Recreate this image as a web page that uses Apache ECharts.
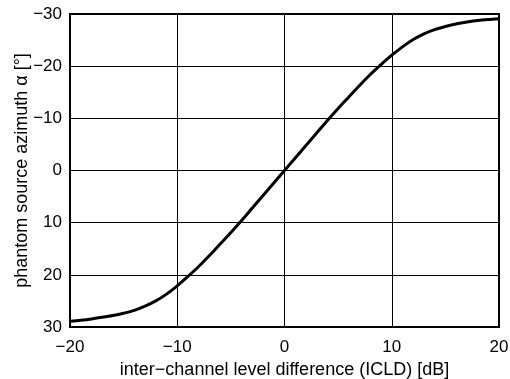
<!DOCTYPE html>
<html>
<head>
<meta charset="utf-8">
<script src="https://cdn.jsdelivr.net/npm/echarts@6/dist/echarts.min.js"></script>
<style>
html,body{margin:0;padding:0;background:#fff;}
#chart{width:510px;height:379px;}
</style>
</head>
<body>
<div id="chart"></div>
<script>
// ICLD values [dB]
var icld = [-20, -19, -18, -17, -16, -15, -14, -13, -12, -11, -10, -9, -8, -7, -6, -5, -4, -3, -2, -1, 0,
            1, 2, 3, 4, 5, 6, 7, 8, 9, 10, 11, 12, 13, 14, 15, 16, 17, 18, 19, 20];
// phantom source azimuth [deg]
var azimuth = [28.9, 28.7, 28.45, 28.15, 27.8, 27.35, 26.8, 26.0, 25.0, 23.7, 22.1, 20.3, 18.4, 16.3, 14.1, 11.9, 9.6, 7.2, 4.8, 2.4, 0,
               -2.4, -4.8, -7.2, -9.6, -11.9, -14.1, -16.3, -18.4, -20.3, -22.1, -23.7, -25.1, -26.2, -27.0, -27.6, -28.1, -28.45, -28.75, -28.95, -29.1];
var xTicks = [-20, -10, 0, 10, 20];
var yTicks = [-30, -20, -10, 0, 10, 20, 30];
var xLabel = 'inter\u2212channel level difference (ICLD) [dB]';
var yLabel = 'phantom source azimuth \u03b1 [\u00b0]';

var pts = icld.map(function (x, i) { return [x, azimuth[i]]; });
function fmt(v) { return String(v).replace('-', '\u2212'); }
var font = 'Liberation Sans, Arial, sans-serif';

var chart = echarts.init(document.getElementById('chart'), null, {renderer: 'canvas'});
chart.setOption({
  animation: false,
  backgroundColor: '#fff',
  grid: {left: 70, right: 11, top: 14, bottom: 52, containLabel: false, outerBoundsMode: 'none',
         show: true, borderColor: '#000', borderWidth: 2, backgroundColor: 'transparent'},
  xAxis: {
    type: 'value',
    min: xTicks[0], max: xTicks[xTicks.length - 1], interval: 10,
    name: xLabel, nameLocation: 'middle', nameGap: 34, nameMoveOverlap: false,
    nameTextStyle: {color: '#000', fontSize: 18, fontFamily: font},
    axisLine: {show: true, onZero: false, lineStyle: {color: '#000', width: 2}},
    axisTick: {show: false},
    axisLabel: {color: '#000', fontSize: 17, fontFamily: font, margin: 12, formatter: fmt},
    splitLine: {show: true, lineStyle: {color: '#000', width: 1}}
  },
  yAxis: {
    type: 'value', inverse: true,
    min: yTicks[0], max: yTicks[yTicks.length - 1], interval: 10,
    name: yLabel, nameLocation: 'middle', nameGap: 39, nameRotate: 90, nameMoveOverlap: false,
    nameTextStyle: {color: '#000', fontSize: 18, fontFamily: font},
    axisLine: {show: true, onZero: false, lineStyle: {color: '#000', width: 2}},
    axisTick: {show: false},
    axisLabel: {color: '#000', fontSize: 17, fontFamily: font, margin: 8, formatter: fmt},
    splitLine: {show: true, lineStyle: {color: '#000', width: 1}}
  },
  series: [{
    type: 'line',
    data: pts,
    smooth: 0.3,
    showSymbol: false,
    lineStyle: {color: '#000', width: 3}
  }]
});
</script>
</body>
</html>
